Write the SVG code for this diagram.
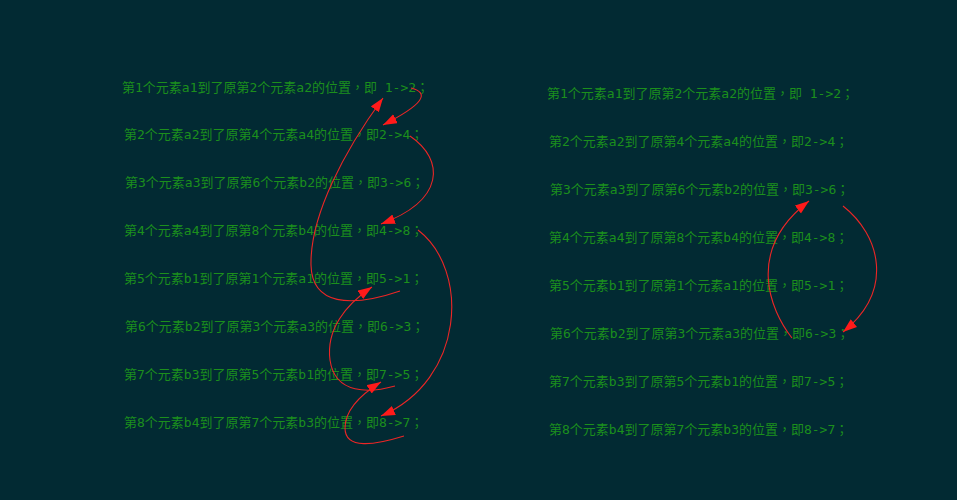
<svg xmlns="http://www.w3.org/2000/svg" width="957" height="500" viewBox="0 0 957 500">
<style>
.t{font-family:"DejaVu Sans Mono","Noto Sans CJK TC",monospace;font-size:13px;fill:#1c8f1c}
.c{fill:none;stroke:#ec2626;stroke-width:1.1;marker-end:url(#ah)}
</style>
<defs>
<marker id="ah" markerUnits="userSpaceOnUse" markerWidth="16" markerHeight="12" refX="14" refY="5" orient="auto">
<path d="M0,0 L14,5 L0,10 Z" fill="#ff1a1a"/>
</marker>
</defs>
<rect width="957" height="500" fill="#022a33"/>
<g id="left">
<text class="t" x="122" y="92">第1个元素a1到了原第2个元素a2的位置，即 1->2；</text>
<text class="t" x="124" y="139">第2个元素a2到了原第4个元素a4的位置，即2->4；</text>
<text class="t" x="125" y="187">第3个元素a3到了原第6个元素b2的位置，即3->6；</text>
<text class="t" x="124" y="235">第4个元素a4到了原第8个元素b4的位置，即4->8；</text>
<text class="t" x="124" y="283">第5个元素b1到了原第1个元素a1的位置，即5->1；</text>
<text class="t" x="125" y="331">第6个元素b2到了原第3个元素a3的位置，即6->3；</text>
<text class="t" x="124" y="379">第7个元素b3到了原第5个元素b1的位置，即7->5；</text>
<text class="t" x="124" y="427">第8个元素b4到了原第7个元素b3的位置，即8->7；</text>
</g>
<g id="right">
<text class="t" x="547" y="98">第1个元素a1到了原第2个元素a2的位置，即 1->2；</text>
<text class="t" x="549" y="146">第2个元素a2到了原第4个元素a4的位置，即2->4；</text>
<text class="t" x="550" y="194">第3个元素a3到了原第6个元素b2的位置，即3->6；</text>
<text class="t" x="549" y="242">第4个元素a4到了原第8个元素b4的位置，即4->8；</text>
<text class="t" x="549" y="290">第5个元素b1到了原第1个元素a1的位置，即5->1；</text>
<text class="t" x="550" y="338">第6个元素b2到了原第3个元素a3的位置，即6->3；</text>
<text class="t" x="549" y="386">第7个元素b3到了原第5个元素b1的位置，即7->5；</text>
<text class="t" x="549" y="434">第8个元素b4到了原第7个元素b3的位置，即8->7；</text>
</g>
<g id="connectors">
<path class="c" d="M411,88 C430,93 424,104 383,125"/>
<path class="c" d="M410,136 C445,160 445,200 381,224"/>
<path class="c" d="M418,230 C470,270 465,380 381,416"/>
<path class="c" d="M400,291 C350,308 312,305 311,265 C310,215 345,150 383,98"/>
<path class="c" d="M395,386 C370,393 335,395 330,360 C326,330 345,305 372,287"/>
<path class="c" d="M404,436 C375,445 345,450 345,428 C345,410 360,395 381,382"/>
<path class="c" d="M843,206 C880,235 895,290 843,332"/>
<path class="c" d="M792,338 C770,310 745,250 809,201"/>
</g>
</svg>
